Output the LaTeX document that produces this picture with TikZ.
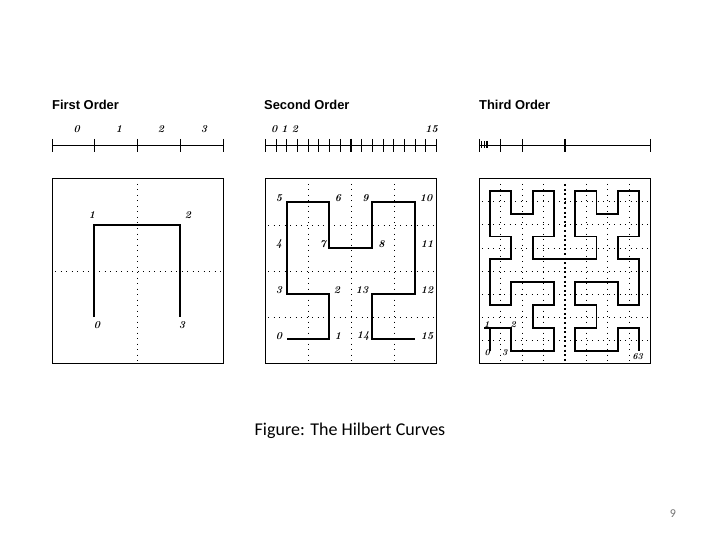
\documentclass[tikz,border=0pt]{standalone}
\usepackage{fontspec}
\setsansfont{Liberation Sans}
\newfontfamily\capfont{Carlito}
\usepackage{tikz}

\begin{document}
\begin{tikzpicture}[x=1pt, y=-1pt,
  frame/.style={draw=black, line width=1pt},
  rulerline/.style={draw=black, line width=1pt},
  thicktick/.style={draw=black, line width=1.9pt},
  gridline/.style={draw=black, line width=1pt, dash pattern=on 1pt off 4.5pt},
  midline/.style={draw=black, line width=1.5pt, dash pattern=on 2pt off 2.6pt},
  curve/.style={draw=black, line width=1.9pt, line join=miter},
  heading/.style={font=\sffamily\bfseries\fontsize{12.9}{14}\selectfont, anchor=west, inner sep=0pt},
  num/.style={font=\bfseries\itshape\fontsize{10.5}{12}\selectfont, inner sep=0pt}]
  \useasboundingbox (0,0) rectangle (720,540);
  \fill[white] (0,0) rectangle (720,540);

  % headings
  \node[heading] (first) at (52,105) {First Order};
  \node[heading] (second) at (264,105) {Second Order};
  \node[heading] (third) at (479,105) {Third Order};

  % first order
  \draw[rulerline] (52.5,145.7) -- (223,145.7);
  \foreach \tx in {52.5,94.5,137,180,223}
    \draw[rulerline] (\tx,139) -- (\tx,152);
  \foreach \tx/\tl/\tn in {76.7/0/a,119/1/b,161/2/c,204/3/d}
    \node[num] (top1\tn) at (\tx,129) {\tl};
  \draw[frame] (52.5,179) rectangle (223,363);
  \draw[gridline] (137.5,184) -- (137.5,361);
  \draw[gridline] (55,271) -- (223,271);
  \draw[curve] (94,317) -- (94,225) -- (180,225) -- (180,317);
  \foreach \tx/\ty/\tl/\tn in {92/215/1/b,188/215/2/c,97/325/0/a,182/325/3/d}
    \node[num] (in1\tn) at (\tx,\ty) {\tl};

  % second order
  \draw[rulerline] (265.5,145.7) -- (436.5,145.7);
  \foreach \k in {0,...,16}
    \draw[rulerline] ({265.5+\k*10.69},139) -- ({265.5+\k*10.69},152);
  \draw[thicktick] (351,139) -- (351,152);
  \foreach \tx/\tl/\tn in {274.3/0/a,284.5/1/b,295/2/c,431.7/15/d}
    \node[num] (top2\tn) at (\tx,129) {\tl};
  \draw[frame] (265.5,179) rectangle (436.5,363);
  \foreach \tx in {308,351.5,394.3}
    \draw[gridline] (\tx,184) -- (\tx,361);
  \foreach \ty in {225.7,271,317}
    \draw[gridline] (268,\ty) -- (436.5,\ty);
  \draw[curve] (287.3,339.3) -- (329,339.3) -- (329,293.7) -- (287.3,293.7)
    -- (287.3,202) -- (329,202) -- (329,247.7) -- (372.3,247.7) -- (372.3,202)
    -- (415,202) -- (415,293.7) -- (372.3,293.7) -- (372.3,339.3) -- (415,339.3);
  \foreach \tx/\ty/\tl in {279/198/5,338/198/6,365.5/198/9,426/198/10,
      279/244/4,323/244/7,381.5/244/8,427/244/11,
      279/290/3,337/290/2,362/290/13,427/290/12,
      279/336/0,338/336/1,363/336/14,427/336/15}
    \node[num] (in2n\tl) at (\tx,\ty) {\tl};

  % third order
  \draw[rulerline] (479.5,145.7) -- (650.3,145.7);
  \foreach \tx in {479.5,500.3,522.3,650.3}
    \draw[rulerline] (\tx,139) -- (\tx,152);
  \foreach \tx in {481.8,484.2}
    \draw[rulerline] (\tx,141) -- (\tx,148);
  \draw[thicktick] (486.7,141) -- (486.7,148);
  \draw[thicktick] (565,139) -- (565,152);
  \draw[frame] (479.5,179) rectangle (650.3,363);
  \foreach \tx in {500.7,522.3,543.7,586.3,607.7,629.3}
    \draw[gridline] (\tx,184) -- (\tx,361);
  \draw[midline] (565,184) -- (565,361);
  \foreach \ty in {202,225,248.3,271.7,294.3,317.3,340.7}
    \draw[gridline] (482,\ty) -- (650.3,\ty);
  \begin{scope}[shift={(490,351)}, x=21.29pt, y=22.9pt]
    \draw[curve] (0,0) -- (0,1) -- (1,1) -- (1,0) -- (3,0) -- (3,1) -- (2,1)
      -- (2,2) -- (3,2) -- (3,3) -- (1,3) -- (1,2) -- (0,2) -- (0,4) -- (1,4)
      -- (1,5) -- (0,5) -- (0,7) -- (1,7) -- (1,6) -- (2,6) -- (2,7) -- (3,7)
      -- (3,5) -- (2,5) -- (2,4) -- (5,4) -- (5,5) -- (4,5) -- (4,7) -- (5,7)
      -- (5,6) -- (6,6) -- (6,7) -- (7,7) -- (7,5) -- (6,5) -- (6,4) -- (7,4)
      -- (7,2) -- (6,2) -- (6,3) -- (4,3) -- (4,2) -- (5,2) -- (5,1) -- (4,1)
      -- (4,0) -- (6,0) -- (6,1) -- (7,1) -- (7,0);
    \draw[curve] (-0.28,1) -- (0,1);
  \end{scope}
  \foreach \tx/\ty/\tl in {486.7/325/1,513.3/325/2,487.3/353/0,504.7/353/3,637.7/357/63}
    \node[num, font=\bfseries\itshape\fontsize{9}{10}\selectfont] (in3n\tl) at (\tx,\ty) {\tl};

  % caption and page number
  \node[font=\capfont\fontsize{18}{20}\selectfont, inner sep=0pt] (caption) at (350,431) {Figure: The Hilbert Curves};
  \node[font=\capfont\fontsize{12}{14}\selectfont, text=black!55, inner sep=0pt] (page) at (673,514) {9};
\end{tikzpicture}
\end{document}
